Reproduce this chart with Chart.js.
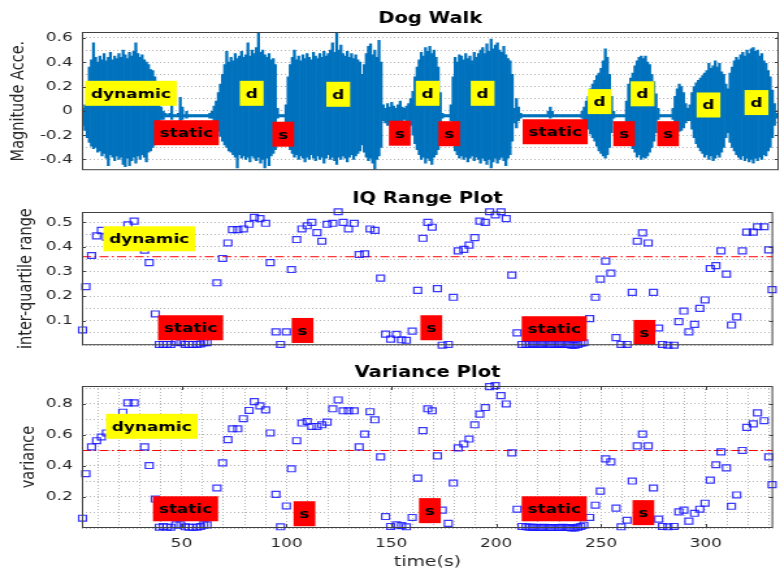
<!DOCTYPE html>
<html lang="en">
<head>
<meta charset="UTF-8">
<title>Dog Walk</title>
<script src="https://cdn.jsdelivr.net/npm/chart.js"></script>
<style>
  body { margin: 0; background: #fff; }
  .fig { position: relative; width: 780px; height: 571px; overflow: hidden; }
  .fig canvas { position: absolute; left: 0; }
</style>
</head>
<body>
<div class="fig">
  <!-- drawn at 600px wide and stretched to 780px, like the wide source figure -->
  <canvas id="walkChart" width="600" height="185" style="top:0;width:780px;height:185px"></canvas>
  <canvas id="iqrChart" width="600" height="175" style="top:185px;width:780px;height:175px"></canvas>
  <canvas id="varChart" width="600" height="211" style="top:360px;width:780px;height:211px"></canvas>
</div>
<script>
// time axis (s)
const tMin = 2.5, tMax = 332;

// Dog Walk: upper / lower envelope of the acceleration magnitude, one bin per second from walkStart
const walkStart = 3;
const walkHi = [
  0.02,0.05,0.22,0.36,0.42,0.56,0.44,0.40,0.45,0.42, 0.47,0.41,0.44,0.48,0.42,0.45,0.43,0.47,0.44,0.50,
  0.46,0.43,0.48,0.45,0.49,0.56,0.47,0.44,0.46,0.42, 0.40,0.38,0.34,0.33,0.28,0.22,0.12,0.03,          // 3-40
  0.00,-0.02,-0.03,-0.02,0.05,-0.03,-0.03,-0.02,0.11,0.03, -0.03,0.00,-0.03,-0.03,-0.03,-0.03,-0.03,-0.03,
  -0.03,-0.03,-0.03,-0.03,-0.02,                                                                       // 41-63
  0.00,0.04,0.08,0.15,0.22,0.30,0.38,0.49,0.40,0.44, 0.41,0.47,0.43,0.45,0.49,0.44,0.46,0.56,0.45,0.50,
  0.47,0.52,0.64,0.48,0.50,0.46,0.44,0.47,0.42,0.43, 0.38,0.02,                                        // 64-95
  -0.03,-0.03,-0.03,0.05,                                                                              // 96-99
  0.28,0.38,0.44,0.50,0.42,0.45,0.41,0.46,0.43,0.47, 0.44,0.42,0.48,0.45,0.43,0.47,0.44,0.49,0.45,0.47,
  0.50,0.56,0.48,0.65,0.50,0.54,0.47,0.45,0.49,0.44, 0.47,0.43,0.46,0.42,0.40,0.30,0.38,0.47,0.53,0.55,
  0.46,0.50,0.44,0.58,0.40,0.05,                                                                       // 100-145
  0.02,0.06,0.03,0.07,0.04,0.02,0.05,0.08,0.03,0.02, 0.04,0.06,                                        // 146-157
  0.10,0.16,0.28,0.36,0.42,0.48,0.45,0.52,0.49,0.53, 0.47,0.50,0.44,0.36,0.15,                         // 158-172
  -0.02,-0.03,-0.03,-0.03,0.05,                                                                        // 173-177
  0.28,0.44,0.40,0.46,0.45,0.42,0.47,0.43,0.45,0.41, 0.48,0.44,0.47,0.50,0.52,0.47,0.55,0.49,0.59,0.51,
  0.54,0.56,0.50,0.48,0.53,0.46,0.43,0.41,0.30,                                                        // 178-206
  0.02,0.10,0.03,-0.02,                                                                                // 207-210
  -0.03,-0.03,-0.03,-0.03,-0.03,-0.03,-0.03,-0.03,-0.03,-0.03, -0.03,-0.03,0.00,0.03,0.00,-0.03,-0.03,-0.03,
  -0.03,-0.03,-0.03,-0.03,-0.03,-0.03,-0.03,-0.03,-0.03,-0.03,                                         // 211-238
  0.00,0.03,0.08,0.12,0.18,0.22,0.25,0.29,0.31,0.35, 0.41,0.51,0.44,0.30,0.12,0.00,                    // 239-254
  -0.03,-0.03,-0.03,-0.03,-0.03,                                                                       // 255-259
  0.08,0.22,0.27,0.31,0.37,0.41,0.44,0.45,0.43,0.45, 0.40,0.38,0.30,0.24,0.14,0.02,                    // 260-275
  -0.03,-0.03,-0.03,-0.03,-0.03,-0.03,                                                                 // 276-281
  0.02,0.12,0.18,0.22,0.20,0.15,0.06,0.02,                                                             // 282-289
  0.05,0.15,0.20,0.23,0.25,0.27,0.29,0.31,0.33,0.39, 0.35,0.37,0.41,0.36,0.39,0.32,0.30,0.22,          // 290-307
  0.18,0.31,0.36,0.41,0.44,0.42,0.46,0.48,0.45,0.50, 0.47,0.51,0.52,0.49,0.50,0.45,0.47,0.41,0.39,0.33,
  0.28,0.17,0.06,                                                                                      // 308-330
  -0.02                                                                                                // 331
];
const walkLo = [
  -0.12,-0.16,-0.22,-0.26,-0.29,-0.31,-0.30,-0.34,-0.33,-0.37, -0.35,-0.39,-0.45,-0.36,-0.38,-0.41,-0.37,-0.40,-0.38,-0.44,
  -0.46,-0.39,-0.45,-0.41,-0.38,-0.43,-0.37,-0.40,-0.36,-0.38, -0.42,-0.34,-0.33,-0.30,-0.28,-0.25,-0.15,-0.07,
  -0.07,-0.05,-0.05,-0.05,-0.07,-0.05,-0.05,-0.05,-0.10,-0.07, -0.05,-0.06,-0.05,-0.05,-0.05,-0.05,-0.05,-0.05,
  -0.05,-0.05,-0.05,-0.05,-0.06,
  -0.06,-0.08,-0.12,-0.17,-0.21,-0.25,-0.28,-0.30,-0.33,-0.34, -0.36,-0.38,-0.47,-0.36,-0.39,-0.37,-0.40,-0.38,-0.42,-0.37,
  -0.39,-0.41,-0.38,-0.43,-0.40,-0.47,-0.39,-0.45,-0.37,-0.35, -0.32,-0.06,
  -0.05,-0.05,-0.05,-0.10,
  -0.25,-0.32,-0.35,-0.38,-0.36,-0.40,-0.37,-0.39,-0.42,-0.38, -0.40,-0.36,-0.39,-0.41,-0.37,-0.40,-0.38,-0.43,-0.39,-0.36,
  -0.40,-0.38,-0.41,-0.44,-0.38,-0.40,-0.37,-0.39,-0.42,-0.38, -0.36,-0.40,-0.37,-0.35,-0.33,-0.28,-0.34,-0.38,-0.41,-0.39,
  -0.43,-0.48,-0.40,-0.37,-0.30,-0.08,
  -0.10,-0.12,-0.09,-0.11,-0.08,-0.10,-0.12,-0.09,-0.08,-0.07, -0.10,-0.13,
  -0.12,-0.20,-0.27,-0.32,-0.36,-0.40,-0.38,-0.43,-0.39,-0.41, -0.44,-0.38,-0.36,-0.32,-0.12,
  -0.06,-0.05,-0.05,-0.05,-0.08,
  -0.22,-0.33,-0.36,-0.39,-0.37,-0.40,-0.38,-0.42,-0.39,-0.37, -0.41,-0.38,-0.40,-0.43,-0.39,-0.41,-0.44,-0.40,-0.47,-0.42,
  -0.39,-0.43,-0.40,-0.38,-0.41,-0.45,-0.39,-0.36,-0.25,
  -0.10,-0.14,-0.08,-0.06,
  -0.05,-0.05,-0.05,-0.05,-0.05,-0.05,-0.05,-0.05,-0.05,-0.05, -0.05,-0.05,-0.05,-0.06,-0.05,-0.05,-0.05,-0.05,
  -0.05,-0.05,-0.05,-0.05,-0.05,-0.05,-0.05,-0.05,-0.05,-0.05,
  -0.06,-0.09,-0.12,-0.15,-0.19,-0.22,-0.25,-0.29,-0.33,-0.35, -0.37,-0.39,-0.36,-0.30,-0.18,-0.06,
  -0.05,-0.05,-0.05,-0.05,-0.05,
  -0.10,-0.20,-0.26,-0.31,-0.34,-0.38,-0.36,-0.40,-0.38,-0.39, -0.37,-0.34,-0.30,-0.25,-0.18,-0.07,
  -0.05,-0.05,-0.05,-0.05,-0.05,-0.05,
  -0.07,-0.12,-0.15,-0.17,-0.16,-0.14,-0.10,-0.08,
  -0.08,-0.15,-0.22,-0.27,-0.30,-0.33,-0.35,-0.38,-0.36,-0.40, -0.37,-0.41,-0.39,-0.36,-0.38,-0.34,-0.30,-0.22,
  -0.18,-0.26,-0.30,-0.33,-0.36,-0.38,-0.40,-0.37,-0.41,-0.39, -0.42,-0.40,-0.43,-0.39,-0.41,-0.38,-0.40,-0.36,-0.37,-0.33,
  -0.30,-0.22,-0.12,
  -0.06
];

// window centres (s) with inter-quartile range and variance of each window
const winTime = [
  2.8,4.4,7.1,9.5,11.8,14.2,16.7,19.2,22.0,24.4,
  27.4,29.9,32.4,34.6,37.5,39.4,41.3,43.0,44.9,47.3,
  49.6,51.7,53.5,55.4,57.5,59.1,60.6,62.2,66.9,69.6,
  72.1,74.3,76.8,79.5,82.2,84.7,87.4,90.1,92.3,95.0,
  97.2,100.0,102.4,104.9,107.4,109.9,112.1,114.6,116.9,119.4,
  122.1,124.7,127.1,129.6,132.3,134.7,137.3,139.9,142.2,144.9,
  147.3,149.7,152.5,154.9,157.2,160.0,162.6,165.1,167.4,169.5,
  172.0,174.3,177.2,179.6,181.9,184.6,187.1,189.8,192.2,194.8,
  196.9,199.6,202.3,204.8,207.5,210.0,212.3,214.3,215.8,217.2,
  218.7,220.1,221.6,223.0,224.5,225.9,227.4,228.8,230.3,231.7,
  233.2,234.6,236.1,237.5,239.0,240.4,241.8,244.6,247.3,249.7,
  252.2,254.7,257.2,259.6,262.4,264.9,267.3,269.8,272.5,275.0,
  277.5,279.3,281.9,284.8,287.1,289.5,291.9,294.6,297.1,299.6,
  302.1,304.8,307.2,309.8,312.2,314.7,317.4,319.5,322.6,324.6,
  327.8,330.0,331.6
];
const iqrVals = [
  0.062,0.238,0.365,0.445,0.467,0.44,0.45,0.46,0.455,0.49,
  0.505,0.45,0.387,0.336,0.127,0.003,0.003,0.003,0.003,0.012,
  0.01,0.003,0.003,0.003,0.003,0.005,0.01,0.01,0.254,0.353,
  0.416,0.47,0.47,0.473,0.492,0.52,0.515,0.496,0.336,0.054,
  0.003,0.054,0.308,0.43,0.473,0.486,0.5,0.458,0.423,0.492,
  0.496,0.543,0.5,0.473,0.496,0.369,0.372,0.473,0.467,0.273,
  0.045,0.025,0.044,0.022,0.02,0.057,0.223,0.435,0.5,0.48,
  0.23,0.0,0.003,0.195,0.384,0.39,0.407,0.438,0.505,0.5,
  0.543,0.53,0.543,0.515,0.285,0.05,0.003,0.003,0.003,0.005,
  0.003,0.003,0.003,0.008,0.003,0.003,0.003,0.003,0.005,0.003,
  0.003,0.003,0.0,0.0,0.003,0.008,0.01,0.108,0.195,0.269,
  0.342,0.293,0.031,0.003,0.003,0.215,0.423,0.457,0.416,0.215,
  0.07,0.003,0.0,0.0,0.096,0.139,0.054,0.085,0.15,0.184,
  0.312,0.324,0.384,0.289,0.082,0.115,0.384,0.46,0.46,0.482,
  0.482,0.388,0.226
];
const varVals = [
  0.063,0.35,0.523,0.563,0.587,0.613,0.64,0.68,0.747,0.807,
  0.807,0.70,0.523,0.403,0.187,0.005,0.01,0.005,0.005,0.02,
  0.02,0.008,0.005,0.005,0.005,0.01,0.02,0.02,0.258,0.42,
  0.57,0.64,0.64,0.705,0.758,0.815,0.788,0.762,0.613,0.217,
  0.008,0.142,0.382,0.563,0.677,0.687,0.655,0.655,0.666,0.683,
  0.769,0.826,0.756,0.756,0.756,0.523,0.606,0.75,0.698,0.459,
  0.074,0.01,0.02,0.015,0.008,0.068,0.322,0.628,0.769,0.756,
  0.465,0.115,0.03,0.29,0.517,0.542,0.574,0.666,0.735,0.777,
  0.912,0.918,0.854,0.8,0.485,0.121,0.01,0.008,0.005,0.005,
  0.005,0.003,0.003,0.005,0.003,0.003,0.003,0.003,0.003,0.005,
  0.003,0.003,0.0,0.0,0.005,0.01,0.018,0.068,0.147,0.238,
  0.446,0.427,0.128,0.008,0.05,0.303,0.53,0.606,0.53,0.258,
  0.057,0.01,0.008,0.01,0.104,0.115,0.044,0.095,0.121,0.16,
  0.309,0.408,0.491,0.388,0.14,0.213,0.5,0.649,0.672,0.743,
  0.692,0.459,0.28
];
const iqrThreshold = 0.36;
const varThreshold = 0.5;

// activity tags: text, time (s), level on the panel's y axis
const walkTagText  = ['dynamic','static','d','s','d','s','d','s','d','static','d','s','d','s','d','d'];
const walkTagTime  = [25.7, 51.9, 82.8, 97.7, 123.7, 152.8, 166.0, 176.2, 192.0, 226.3, 247.3, 258.9, 267.6, 279.7, 298.8, 321.5];
const walkTagLevel = [0.144, -0.18, 0.144, -0.192, 0.136, -0.184, 0.144, -0.188, 0.144, -0.172, 0.076, -0.188, 0.14, -0.188, 0.048, 0.068];
const iqrTagText  = ['dynamic','static','s','s','static','s'];
const iqrTagTime  = [34.6, 54.3, 107.7, 169.1, 227.7, 270.7];
const iqrTagLevel = [0.433, 0.071, 0.06, 0.071, 0.067, 0.052];
const varTagText  = ['dynamic','static','s','s','static','s'];
const varTagTime  = [35.8, 51.9, 108.6, 168.4, 227.7, 270.2];
const varTagLevel = [0.656, 0.124, 0.092, 0.112, 0.124, 0.099];

const FONT = 'DejaVu Sans';
const INK = '#262626';
const GRID = '#b4b4b4';

Chart.defaults.font.family = FONT;
Chart.defaults.color = INK;

if (walkHi.length !== walkLo.length) console.error('walk envelope length mismatch', walkHi.length, walkLo.length);
if (winTime.length !== iqrVals.length || winTime.length !== varVals.length) console.error('window length mismatch');

// box round the axes plus small inward ticks at labelled values
const framePlugin = {
  id: 'frame',
  afterDraw(chart, args, opts) {
    const { ctx, chartArea: a, scales } = chart;
    ctx.save();
    ctx.strokeStyle = '#404040';
    ctx.lineWidth = 1;
    ctx.strokeRect(a.left + 0.5, a.top + 0.5, a.right - a.left - 1, a.bottom - a.top - 1);
    ctx.beginPath();
    scales.y.ticks.filter(t => t.label !== '').forEach(t => {
      const y = Math.round(scales.y.getPixelForValue(t.value)) + 0.5;
      ctx.moveTo(a.left, y); ctx.lineTo(a.left + 3, y);
      ctx.moveTo(a.right, y); ctx.lineTo(a.right - 3, y);
    });
    if (opts.xMarks) {
      scales.x.ticks.filter(t => t.label !== '').forEach(t => {
        const x = Math.round(scales.x.getPixelForValue(t.value)) + 0.5;
        ctx.moveTo(x, a.top); ctx.lineTo(x, a.top + 4);
        ctx.moveTo(x, a.bottom); ctx.lineTo(x, a.bottom - 4);
      });
    }
    ctx.stroke();
    ctx.restore();
  }
};

// yellow / red text boxes
const tagsPlugin = {
  id: 'tags',
  afterDatasetsDraw(chart, args, opts) {
    const { ctx, scales: { x, y } } = chart;
    ctx.save();
    ctx.font = 'bold 13px ' + FONT;
    ctx.textAlign = 'center';
    ctx.textBaseline = 'middle';
    opts.text.forEach((txt, i) => {
      const cx = x.getPixelForValue(opts.time[i]);
      const cy = y.getPixelForValue(opts.level[i]);
      const w = ctx.measureText(txt).width + 9, h = 25;
      ctx.fillStyle = txt.charAt(0) === 's' ? '#ff0000' : '#ffff00';
      ctx.fillRect(cx - w / 2, cy - h / 2, w, h);
      ctx.fillStyle = '#000';
      ctx.fillText(txt, cx, cy + 1);
    });
    ctx.restore();
  }
};

function labelEvery(step, every, showZero) {
  return v => {
    const n = Math.round(v * 1000) / 1000;
    if (Math.abs(Math.round(n / every) * every - n) > 1e-6) return '';
    if (n === 0 && !showZero) return '';
    return String(n);
  };
}

function yAxis(min, max, step, every, showZero, title, titlePad) {
  return {
    min, max,
    afterFit: s => { s.width = 63; },
    ticks: { stepSize: step, includeBounds: false, autoSkip: false, padding: 7, font: { size: 13 }, color: INK,
             callback: labelEvery(step, every, showZero) },
    grid: { color: GRID, lineWidth: 1, drawTicks: false },
    border: { display: false, dash: [1, 2] },
    title: { display: true, text: title, font: { size: 14.5 }, color: INK, padding: { top: titlePad, bottom: 0 } }
  };
}

function hiddenX(height) {
  return {
    type: 'linear', min: tMin, max: tMax, offset: false,
    afterFit: s => { s.height = height; },
    ticks: { display: false },
    grid: { display: false, drawTicks: false, offset: false },
    border: { display: false }
  };
}

function titleOpts(text, top, bottom) {
  return { display: true, text, fullSize: false, color: '#000',
           font: { size: 15, weight: 'bold' }, padding: { top, bottom } };
}

const common = {
  responsive: false,
  devicePixelRatio: 1,
  animation: false,
  events: [],
  layout: { padding: { left: 0, right: 1, top: 0, bottom: 0 } }
};

// Dog Walk
new Chart(document.getElementById('walkChart'), {
  type: 'bar',
  data: {
    datasets: [{
      data: walkHi.map((h, i) => ({ x: walkStart + i, y: [walkLo[i], h] })),
      backgroundColor: '#0072bd',
      borderWidth: 0,
      barPercentage: 1,
      categoryPercentage: 1
    }]
  },
  options: {
    ...common,
    plugins: {
      legend: { display: false },
      tooltip: { enabled: false },
      title: titleOpts('Dog Walk', 10, 4),
      tags: { text: walkTagText, time: walkTagTime, level: walkTagLevel },
      frame: {}
    },
    scales: {
      x: hiddenX(11),
      y: yAxis(-0.488, 0.648, 0.1, 0.2, true, 'Magnitude Acce.', 6)
    }
  },
  plugins: [tagsPlugin, framePlugin]
});

function featureChart(id, vals, threshold, tags, title, titleTop, yOpts, xOpts, frameOpts) {
  return new Chart(document.getElementById(id), {
    type: 'scatter',
    data: {
      datasets: [{
        data: winTime.map((t, i) => ({ x: t, y: vals[i] })),
        pointStyle: 'rect',
        pointRadius: 4.2,
        borderColor: 'rgba(20,20,255,0.85)',
        backgroundColor: 'rgba(0,0,0,0)',
        borderWidth: 1.2,
        clip: false
      }, {
        type: 'line',
        data: [{ x: tMin, y: threshold }, { x: tMax, y: threshold }],
        borderColor: '#ff0000',
        borderWidth: 1,
        borderDash: [7, 2.5, 1.5, 2.5],
        pointRadius: 0
      }]
    },
    options: {
      ...common,
      plugins: {
        legend: { display: false },
        tooltip: { enabled: false },
        title: titleOpts(title, titleTop, 4),
        tags,
        frame: frameOpts
      },
      scales: { x: xOpts, y: yOpts }
    },
    plugins: [tagsPlugin, framePlugin]
  });
}

// IQ Range Plot
featureChart('iqrChart', iqrVals, iqrThreshold,
  { text: iqrTagText, time: iqrTagTime, level: iqrTagLevel },
  'IQ Range Plot', 5,
  yAxis(0, 0.542, 0.05, 0.1, false, 'inter-quartile range', 12),
  hiddenX(6), {});

// Variance Plot
featureChart('varChart', varVals, varThreshold,
  { text: varTagText, time: varTagTime, level: varTagLevel },
  'Variance Plot', 4,
  yAxis(0, 0.916, 0.1, 0.2, false, 'variance', 14),
  {
    type: 'linear', min: tMin, max: tMax, offset: false,
    afterFit: s => { s.height = 43; },
    ticks: { stepSize: 10, includeBounds: false, autoSkip: false, maxRotation: 0, padding: 8,
             font: { size: 13 }, color: INK, callback: labelEvery(10, 50, false) },
    grid: { color: GRID, lineWidth: 1, drawTicks: false, offset: false },
    border: { display: false, dash: [1, 2] },
    title: { display: true, text: 'time(s)', font: { size: 14.5 }, color: INK, padding: { top: 0, bottom: 0 } }
  },
  { xMarks: true });
</script>
</body>
</html>
